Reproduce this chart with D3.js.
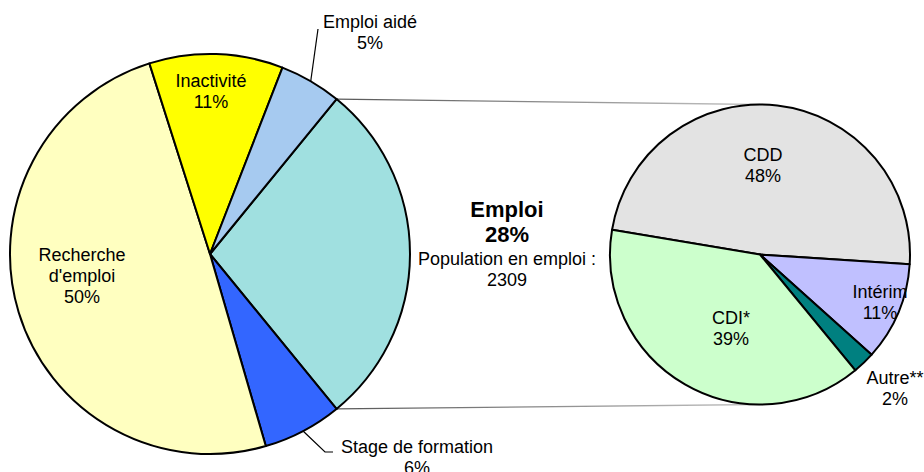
<!DOCTYPE html>
<html lang="fr">
<head>
<meta charset="utf-8">
<title>Emploi - situation et type de contrat</title>
<script src="https://cdn.jsdelivr.net/npm/d3@7"></script>
<style>
  body { margin: 0; background: #fff; }
  .lbl { font-family: "Liberation Sans", Arial, sans-serif; font-size: 18px; fill: #000; text-anchor: middle; }
  .ttl { font-weight: bold; font-size: 22px; }
  .lead { stroke: #000; stroke-width: 1.2; fill: none; }
</style>
</head>
<body>
<script>
// main pie : situation
var mainCats = ["Emploi", "Stage de formation", "Recherche|d'emploi", "Inactivité", "Emploi aidé"];
var mainVals = [28.2, 6.4, 49.6, 10.8, 5.0];
var mainColors = ["#A0E0E0", "#3366FF", "#FFFFC0", "#FFFF00", "#A6CAF0"];

// second pie : type de contrat (detail of "Emploi")
var subCats = ["CDD", "Intérim", "Autre**", "CDI*"];
var subVals = [48.4, 10.6, 2.4, 38.6];
var subColors = ["#E3E3E3", "#C0C0FF", "#008080", "#CCFFCC"];

var popLabel = "Population en emploi :";
var popValue = 2309;

// layout
var w = 924, h = 472;
var c1 = [210, 254], r1 = 200;
var c2 = [760, 254.5], r2 = 150;
var lh = 21;
var deg = Math.PI / 180;

// label anchors (first baseline), relative to page
var mainLabelPos = [null, [417, 453], [82, 261], [211, 87], [370, 28]];
var subLabelPos = [[763, 161], [880, 298], [895, 384], [731, 324]];

var svg = d3.select("body").append("svg").attr("width", w).attr("height", h);

// gradient for the connector lines
var defs = svg.append("defs");
var grad = defs.append("linearGradient").attr("id", "conn")
    .attr("gradientUnits", "userSpaceOnUse")
    .attr("x1", 330).attr("y1", 0).attr("x2", c2[0]).attr("y2", 0);
grad.append("stop").attr("offset", "0").attr("stop-color", "#555");
grad.append("stop").attr("offset", "1").attr("stop-color", "#c4c4c4");

var share0 = mainVals[0] / d3.sum(mainVals) * 2 * Math.PI;
var pie1 = d3.pie().sort(null).value(function(d) { return d; })
    .startAngle(Math.PI / 2 - share0 / 2).endAngle(Math.PI / 2 - share0 / 2 + 2 * Math.PI);
var pie2 = d3.pie().sort(null).value(function(d) { return d; })
    .startAngle(-80.5 * deg).endAngle(-80.5 * deg + 2 * Math.PI);

var arcs1 = pie1(mainVals);
var arcs2 = pie2(subVals);

var arc1 = d3.arc().innerRadius(0).outerRadius(r1);
var arc2 = d3.arc().innerRadius(0).outerRadius(r2);

function polar(c, r, a) { return [c[0] + r * Math.sin(a), c[1] - r * Math.cos(a)]; }

// connector lines
var pA = polar(c1, r1, arcs1[0].startAngle), pB = polar(c1, r1, arcs1[0].endAngle);
svg.append("line").attr("x1", pA[0]).attr("y1", pA[1]).attr("x2", c2[0]).attr("y2", c2[1] - r2)
   .attr("stroke", "url(#conn)").attr("stroke-width", 1.3);
svg.append("line").attr("x1", pB[0]).attr("y1", pB[1]).attr("x2", c2[0]).attr("y2", c2[1] + r2)
   .attr("stroke", "url(#conn)").attr("stroke-width", 1.3);

// pies
svg.append("g").attr("transform", "translate(" + c1 + ")")
   .selectAll("path").data(arcs1).enter().append("path")
   .attr("d", arc1)
   .attr("fill", function(d, i) { return mainColors[i]; })
   .attr("stroke", "#000").attr("stroke-width", 2).attr("stroke-linejoin", "round");

svg.append("g").attr("transform", "translate(" + c2 + ")")
   .selectAll("path").data(arcs2).enter().append("path")
   .attr("d", arc2)
   .attr("fill", function(d, i) { return subColors[i]; })
   .attr("stroke", "#000").attr("stroke-width", 2).attr("stroke-linejoin", "round");

// leader lines (Emploi aidé, Stage de formation)
var mid = function(d) { return (d.startAngle + d.endAngle) / 2; };
var pAide = polar(c1, r1, mid(arcs1[4]));
svg.append("path").attr("class", "lead")
   .attr("d", "M" + pAide + "L" + [mainLabelPos[4][0] - 52, mainLabelPos[4][1] + 1]);
var pStage = polar(c1, r1, mid(arcs1[1]));
svg.append("path").attr("class", "lead")
   .attr("d", "M" + pStage + "L" + [mainLabelPos[1][0] - 92, mainLabelPos[1][1] - 1] +
               "L" + [mainLabelPos[1][0] - 84, mainLabelPos[1][1] - 1]);

function addLabel(pos, lines) {
  var t = svg.append("text").attr("class", "lbl").attr("x", pos[0]).attr("y", pos[1]);
  lines.forEach(function(s, i) {
    t.append("tspan").attr("x", pos[0]).attr("dy", i ? lh : 0).text(s);
  });
}

var total1 = d3.sum(mainVals), total2 = d3.sum(subVals);
mainCats.forEach(function(c, i) {
  if (!mainLabelPos[i]) return;
  addLabel(mainLabelPos[i], c.split("|").concat(Math.round(mainVals[i] / total1 * 100) + "%"));
});
subCats.forEach(function(c, i) {
  addLabel(subLabelPos[i], [c, Math.round(subVals[i] / total2 * 100) + "%"]);
});

// central label for the "Emploi" slice
svg.append("text").attr("class", "lbl ttl").attr("x", 507).attr("y", 217).text(mainCats[0]);
svg.append("text").attr("class", "lbl ttl").attr("x", 507).attr("y", 242)
   .text(Math.round(mainVals[0] / total1 * 100) + "%");
addLabel([507, 265], [popLabel, popValue]);
</script>
</body>
</html>
